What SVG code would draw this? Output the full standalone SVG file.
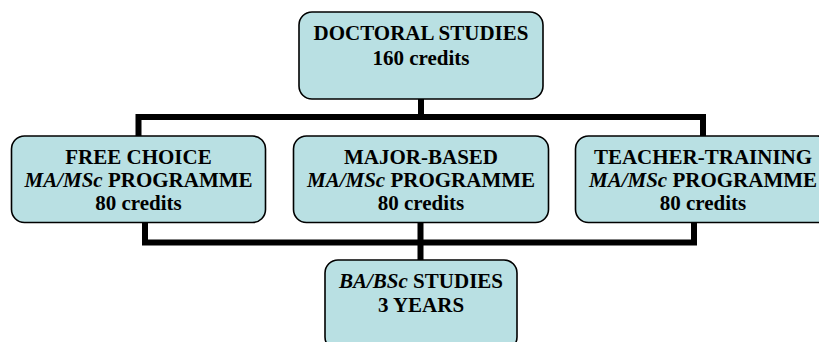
<svg xmlns="http://www.w3.org/2000/svg" width="819" height="342" viewBox="0 0 819 342">
<style>
.box{fill:#B9E0E3;stroke:#000;stroke-width:1.6}
.t{font-family:"Liberation Serif","Times New Roman",serif;font-weight:bold;font-size:21px;fill:#000;text-anchor:middle}
.i{font-style:italic}
.c{fill:none;stroke:#000;stroke-width:6}
</style>
<rect width="819" height="342" fill="#fff"/>
<g id="connectors">
<path class="c" d="M421 99 V117 M138.5 136 V117 H703 V136"/>
<path class="c" d="M145 222 V242.5 H694 V222 M420.5 222 V260"/>
</g>
<g id="doctoral">
<rect class="box" x="299" y="12" width="244" height="87" rx="13"/>
<text class="t" x="421" y="40">DOCTORAL STUDIES</text>
<text class="t" x="421" y="65">160 credits</text>
</g>
<g id="free-choice">
<rect class="box" x="11.5" y="136" width="254" height="86.5" rx="13"/>
<text class="t" x="138.5" y="164">FREE CHOICE</text>
<text class="t" x="138.5" y="187"><tspan class="i">MA/MSc</tspan> PROGRAMME</text>
<text class="t" x="138.5" y="210">80 credits</text>
</g>
<g id="major-based">
<rect class="box" x="293.5" y="136" width="255" height="86.5" rx="13"/>
<text class="t" x="421" y="164">MAJOR-BASED</text>
<text class="t" x="421" y="187"><tspan class="i">MA/MSc</tspan> PROGRAMME</text>
<text class="t" x="421" y="210">80 credits</text>
</g>
<g id="teacher-training">
<rect class="box" x="575.5" y="136" width="255" height="86.5" rx="13"/>
<text class="t" x="703" y="164">TEACHER-TRAINING</text>
<text class="t" x="703" y="187"><tspan class="i">MA/MSc</tspan> PROGRAMME</text>
<text class="t" x="703" y="210">80 credits</text>
</g>
<g id="ba-bsc">
<rect class="box" x="325" y="260" width="192" height="90" rx="13"/>
<text class="t" x="421" y="288"><tspan class="i">BA/BSc</tspan> STUDIES</text>
<text class="t" x="421" y="312">3 YEARS</text>
</g>
</svg>
